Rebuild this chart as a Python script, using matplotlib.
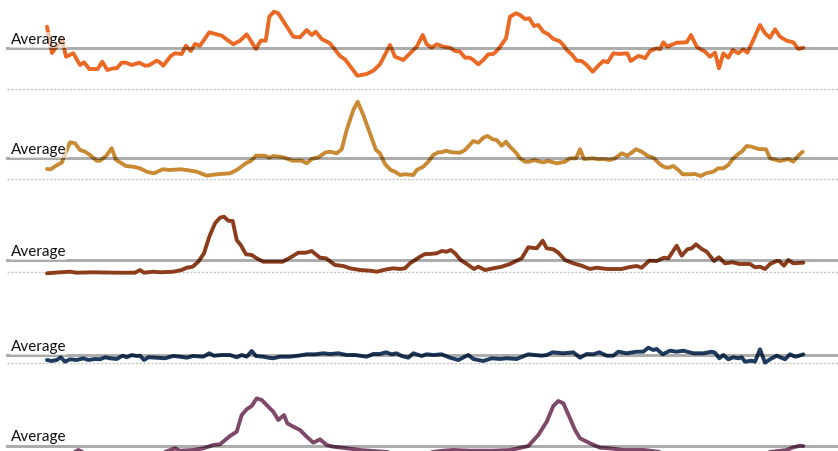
import matplotlib
matplotlib.use("Agg")
import matplotlib.pyplot as plt

# ---------------- data ----------------
t1 = [0, 5, 15, 19, 26.3, 33, 37, 42.3, 50.7, 55.3, 60.3, 66.3, 69.7, 74.7, 79, 84.7, 92.3, 98, 102, 109.7,
      112, 116.3, 123.7, 128, 134.7, 139, 143.7, 148, 153, 162.3, 174.7, 186.3, 193, 199.7, 209, 213.7, 218.7,
      222.3, 227, 231.3, 246.3, 253, 259.7, 264.7, 268.7, 274.7, 283, 293, 298, 310.3, 319.7, 326.3, 333, 343,
      348, 356.3, 363, 369.7, 375.7, 379.7, 384.7, 389.7, 396.3, 403, 408, 413, 418, 423, 426.3, 431.3, 436.3,
      441.3, 446.3, 451.3, 459, 463, 469, 473, 478, 482.3, 487, 491.3, 496.3, 501.3, 506.3, 512.3, 516.3, 519.7,
      524.7, 529.7, 534.7, 539.7, 545.7, 551.3, 556.3, 560.7, 566.3, 572.3, 580.3, 583.7, 591.3, 594.7, 598, 603,
      609.7, 613, 616.3, 620.3, 629.7, 639.7, 644, 649.7, 654.7, 658, 663, 668, 672, 676.3, 681.3, 685.7, 691.3,
      696.3, 700.3, 706.3, 713, 718, 723, 728, 733, 739.7, 746.3, 751.3, 756.3]
v1 = [62.3, 36, 50, 32.3, 35.7, 24, 26.7, 20, 20, 27.3, 19, 20.7, 20.7, 26.3, 26.3, 24, 26.3, 23.3, 23.7, 28.3,
      27.3, 23.3, 33, 35.7, 35, 43.3, 38, 45, 43.3, 56.7, 53.3, 44.7, 48.3, 54.7, 40, 48.3, 48.3,
      72.3, 77.3, 75.7, 52.3, 51.7, 59, 54, 57.3, 50, 45.7, 33, 29.7, 13.3, 15, 18.3, 24.7, 44,
      32.3, 29, 35.7, 42.3, 54, 44.7, 41.3, 44.7, 42.3, 41.3, 38, 37.3, 31.3, 31.3, 29, 24.7, 29,
      34.7, 35, 39.7, 50.7, 72.3, 75.7, 74, 70, 70.7, 63, 64, 57.3, 54.7, 50, 48, 44, 39,
      34.7, 28.3, 28, 24, 17.3, 23.3, 28, 26.7, 35.7, 35, 35.7, 28, 33, 32.3, 30.7, 38,
      40.7, 39.7, 46.7, 42.3, 46.3, 46.7, 54, 42.3, 39, 37.3, 32.3, 36.3, 20.7, 35.7, 31.3, 39, 35.7,
      39.7, 36.3, 49, 64, 55.7, 51.3, 59.7, 52.3, 48.3, 46.7, 40, 41.3]
avg1 = 40.7

t2 = [0, 3.7, 9, 14.7, 19, 23, 28, 33, 38, 43, 49.7, 53, 59, 64.7, 69, 73.7, 79, 86.3, 93, 99.7, 107, 115.7,
      123, 133, 139.7, 149.7, 159.7, 169.7, 183, 189.7, 199.7, 203.7, 209, 218, 222.3, 226.3, 236.3, 245.7,
      254.7, 259.7, 264.7, 271.3, 278, 283, 289.7, 294.7, 299.7, 306.3, 310.7, 316.3, 323, 329, 333, 338,
      343.7, 348, 353, 358, 366.3, 369.7, 376.3, 381.3, 386.3, 391.3, 394.7, 399, 404.7, 413, 418, 426.3,
      431.3, 436.3, 440.3, 445.7, 449.7, 454.7, 459, 463, 469, 473, 478, 482.3, 487, 493, 496.3, 501.3, 509.7,
      518, 523, 529, 533, 537, 546.3, 551.3, 556.3, 563, 568, 574.7, 580.3, 583.7, 589, 594.7, 600.3, 606.3,
      613.7, 618, 621.3, 626.3, 631.3, 635.7, 643, 648, 653.7, 659, 666.3, 671.3, 676.3, 681.3, 686.3, 691.3,
      694.7, 699.7, 704.7, 711.3, 719, 723, 733, 741.3, 746.3, 751.3, 755.7]
v2 = [10.3, 10, 13.6, 16.6, 27.6, 37, 36, 29.3, 27.6, 24.3, 18.6, 18.6, 23.3, 31, 19.3, 16.6, 13.3, 12.6, 11,
      7.6, 6, 10, 9.3, 10, 9.3, 7.6, 3.6, 5, 6, 9.3, 16.6, 18.3, 23.6, 23.6, 21.6, 23.3, 22, 18.6, 18.6, 16,
      20.3, 22, 26.6, 27.6, 26, 30, 49.3, 69.3, 77.6, 64.3, 46, 29.3, 26, 15.3, 9.3, 7.6, 4.3, 5, 4.3, 9.3,
      12.6, 17.6, 24.3, 27, 27, 28.6, 27, 26.6, 29.3, 38.3, 36.6, 41.6, 43.3, 40, 39.3, 33.6, 37.6, 32.6, 26.6,
      21, 17.6, 17.6, 19.3, 17.6, 17, 18.3, 16, 17.6, 21, 21, 30, 20.3, 21, 20, 20.3, 19.3, 21, 26, 23.6, 26,
      30, 27.6, 23.6, 21.6, 14.3, 12, 11.6, 13.3, 9.3, 5, 5, 5.3, 3.3, 6, 7.6, 11, 11, 14.3, 21, 25.3, 27.6,
      33.3, 32.6, 30.3, 30, 21, 18.3, 20.3, 17.6, 23.6, 27.6]
avg2 = 21.0

t3 = [0, 13, 23, 29.7, 46.3, 69.7, 88, 93, 97, 106.3, 113, 126.3, 134.7, 139.7, 145.7, 151.3, 157, 162.3, 168,
      173, 177, 181.3, 185.7, 189.7, 193.7, 199, 204.7, 209.7, 216.3, 226.3, 235.7, 243, 251.3, 259, 264.7, 273,
      279, 288, 296.3, 303, 313, 323, 329.7, 339.7, 346.3, 353, 358, 363, 368, 373, 378, 383, 389.7, 394.7,
      399.7, 403.7, 408, 413.7, 421.3, 427, 431.3, 438, 446.3, 454.7, 463, 469.7, 474.7, 481.3, 489.7, 495.7,
      499.7, 506.3, 511.3, 518, 526.3, 534.7, 543, 549.7, 559.7, 574.7, 581.3, 589.7, 594.7, 602.3, 609.7, 617,
      621.3, 629.7, 634.7, 640.3, 644.7, 649, 654.7, 659.7, 667, 672, 678, 685.7, 692.3, 703, 708, 713, 718,
      723, 729.7, 732.3, 737, 741.3, 746.3, 756.3]
v3 = [-1.6, -0.6, 0, -1, -0.6, -1, -1, 1.7, -1, 0, -0.6, 0, 1.7, 4, 5, 10, 18.4, 35, 48.4, 54, 55, 51, 50.7,
      31.7, 26.7, 17.4, 16.7, 13.4, 10, 10, 10, 14, 19, 19, 20.7, 14, 13.4, 6.7, 5.7, 3.4, 1.7, 1, 0, 2.4, 3.4,
      2.7, 3.4, 8.4, 11.7, 15, 17.7, 17.7, 18.4, 20.7, 20, 21.7, 18.4, 11.7, 6.7, 2.7, 5, 1.7, 3.4, 5, 7.7, 11,
      13.4, 24.4, 23.4, 31, 23.4, 22.4, 19, 11.7, 8.4, 6, 2.7, 4, 2.7, 2.7, 4.4, 5.7, 4, 11, 10.7, 14, 13.4, 26,
      16, 22.4, 23.4, 27.4, 22.7, 20, 10.7, 14.4, 8.4, 9.4, 7.7, 7.7, 4.4, 5, 2.7, 7.7, 10.7, 10.7, 6, 11.7,
      8.4, 9]
avg3 = 11.3

t4 = [0, 4.7, 9.7, 13.7, 18, 23, 29.7, 36.3, 41.3, 48, 53, 58, 63, 69.7, 75.7, 79.7, 84.7, 89.7, 93, 97, 101.3,
      109.7, 118, 126.3, 133, 139.7, 146.3, 156.3, 162.3, 167, 174.7, 183, 189.7, 194.7, 199.7, 204.7, 209,
      216.3, 221.3, 226.3, 233, 243, 251.3, 259.7, 268, 276.3, 283, 291.3, 299.7, 308, 313, 319.7, 326.3, 333,
      339, 344.7, 349.7, 354.7, 361.3, 366.3, 374.7, 379.7, 386.3, 394.7, 403, 411.3, 421.3, 426.3, 436.3,
      444.7, 453, 459.7, 469.7, 481.3, 488, 494.7, 499.7, 505.7, 516.3, 526.3, 533, 539.7, 546.3, 552.3, 559.7,
      566.3, 571.3, 579.7, 589.7, 596.3, 601.3, 606.3, 609.7, 615.7, 623, 629.7, 636.3, 646.3, 656.3, 664.7,
      668, 672.3, 676.3, 681.3, 686.3, 691.3, 694.7, 698, 704.7, 708, 713, 718, 723, 729.7, 738, 743, 748,
      751.3, 756.3]
v4 = [2.7, 1.7, 2.7, 5.4, 1, 3.4, 2.7, 4.4, 2.7, 3.7, 3.4, 5.4, 4.4, 3.7, 7, 5.4, 7.7, 6.7, 7, 2.7, 5.4, 5,
      4.4, 6.7, 6, 5, 6.7, 6, 9.4, 7, 7.7, 7.7, 5.4, 7.7, 6, 11.7, 6.7, 6, 5, 4.4, 6, 6, 7, 8.4, 8.4, 9.4,
      8.7, 9.4, 7.7, 7.7, 7, 6, 8.7, 8.7, 10.4, 8.4, 9.4, 6.7, 5, 9.4, 6.7, 8.4, 7.7, 8.4, 5, 2.7, 7.7, 3.7,
      1.7, 4.4, 3.7, 4.4, 3.7, 8.4, 7.7, 7, 7.7, 10.4, 9.4, 10.4, 5, 8.7, 8.4, 10.4, 7, 7, 11, 9.4, 11, 11,
      15, 12.7, 13.7, 8.4, 12, 11, 12, 9.4, 9.4, 11, 10, 4.4, 7.7, 3.4, 5.4, 4.4, 5.4, 1, 2, 1, 13.4, 0, 3.4,
      7, 3.4, 8.4, 6, 6.7, 8.4]
avg4 = 7.4

t5 = [0, 15, 25, 31.3, 38, 55, 75, 95, 115, 128, 133, 146.3, 156.3, 166.3, 173, 183, 189.7, 194.7, 199.7,
      204.7, 209.7, 214.7, 221.3, 226.3, 231.3, 237, 240.3, 246.3, 253, 259.7, 266.3, 273, 279.7, 286.3, 299.7,
      313, 336.3, 355, 375, 396.3, 406.3, 423, 446.3, 463, 471.3, 481.3, 491.3, 499.7, 506.3, 511.3, 516.3,
      523, 528, 533, 543, 553, 563, 576.3, 596.3, 603, 620, 650, 680, 710, 739.7, 746.3, 753, 756.3]
v5 = [0.5, 0.8, 0.5, 4, 0.8, 0.5, 0.8, 0.5, 1, 5.7, 3.3, 4, 5.7, 9, 9.7, 18, 22.3, 39, 44.7,
      48, 55.7, 54, 47.3, 42.3, 34, 39, 30.7, 27.3, 24, 17.3, 11.3, 14.7, 9, 7.3, 5.7,
      4, 2.3, 1, 0.8, 3.3, 4, 3.3, 3.3, 4, 5.7, 8, 19, 32.3, 48, 53, 50.7,
      35.7, 24, 15.7, 10.7, 6.3, 5.7, 4, 4, 3.3, 1, 0.6, 0.8, 0.5, 4, 6.7, 8.3, 8]
avg5 = 8.0

colors = ["#EA6A25", "#C98A33", "#8C3D1C", "#1E3A5F", "#7E4868"]
label = "Average"

# ---------------- layout ----------------
W, H = 838, 451
fig = plt.figure(figsize=(W / 100, H / 100), dpi=100)
fig.patch.set_facecolor("white")

series = [(t1, v1, avg1), (t2, v2, avg2), (t3, v3, avg3), (t4, v4, avg4), (t5, v5, avg5)]
baselines_px = [89, 179.3, 271.7, 362.7, 454]
panel_h = 85
left_px = 7

for (t, v, avg), col, yb in zip(series, colors, baselines_px):
    ax = fig.add_axes([left_px / W, 1 - yb / H, (W - left_px) / W, panel_h / H])
    ax.set_xlim(-40, W - left_px - 40)
    ax.set_ylim(0, panel_h)
    ax.axis("off")
    ax.axhline(0, color="#c6c6c6", lw=1.0, ls=(0, (1.6, 1.2)), zorder=1, clip_on=False)
    ax.plot(t, v, color=col, lw=2.8, solid_joinstyle="round", solid_capstyle="round",
            clip_on=False, zorder=2)
    ax.axhline(avg, color="black", alpha=0.32, lw=2.2, zorder=3, clip_on=False)
    ax.text(-36, avg + 4.5, label, fontsize=11, family=["Lato", "DejaVu Sans"],
            color="#111111", va="baseline", ha="left", zorder=4,
            bbox=dict(facecolor="white", edgecolor="none", alpha=0.6, pad=0.5))

fig.savefig("out.png", dpi=100, facecolor="white")
